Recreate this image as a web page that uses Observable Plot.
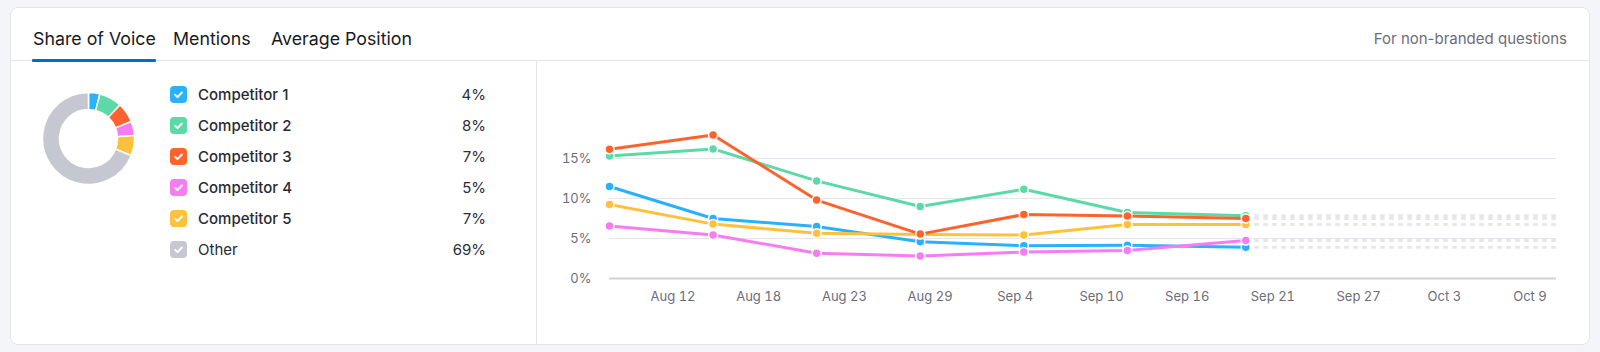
<!DOCTYPE html>
<html>
<head>
<meta charset="utf-8">
<script src="https://cdn.jsdelivr.net/npm/d3@7"></script>
<script src="https://cdn.jsdelivr.net/npm/@observablehq/plot@0.6"></script>
<style>
  html, body { margin: 0; padding: 0; }
  body { width: 1600px; height: 352px; background: #f4f5f9; font-family: Inter, "Noto Sans", sans-serif; position: relative; overflow: hidden; }
  .card { position: absolute; left: 10px; top: 7px; width: 1578px; height: 336px; background: #fff; border: 1px solid #e3e4ea; border-radius: 8px; }
  .tab { position: absolute; top: 27px; line-height: 24px; font-size: 17.8px; color: #171a22; white-space: nowrap; }
  .underline { position: absolute; left: 32px; top: 59px; width: 124px; height: 3px; background: #006dca; border-radius: 1px; }
  .hsep { position: absolute; left: 11px; top: 60px; width: 1578px; height: 1px; background: #e4e5eb; }
  .vsep { position: absolute; left: 536px; top: 61px; width: 1px; height: 283px; background: #e4e5eb; }
  .note { position: absolute; right: 33px; top: 27px; line-height: 24px; font-size: 15px; color: #6c6e79; white-space: nowrap; }
  .row { position: absolute; left: 170px; width: 316px; height: 24px; display: flex; align-items: center; }
  .row svg { flex: none; }
  .row .name { margin-left: 11px; font-size: 15px; color: #272a33; font-weight: 500; white-space: nowrap; }
  .row .val { margin-left: auto; font-size: 15px; color: #2b2e38; }
  #donut { position: absolute; left: 42px; top: 92px; }
  #chart { position: absolute; left: 538px; top: 63px; }
</style>
</head>
<body>
<div class="card"></div>
<div class="hsep"></div>
<div class="underline"></div>
<div class="vsep"></div>
<div class="tab" style="left:33px">Share of Voice</div>
<div class="tab" style="left:173px">Mentions</div>
<div class="tab" style="left:271px">Average Position</div>
<div class="note">For non-branded questions</div>
<div id="legend"></div>
<div id="donut"></div>
<div id="chart"></div>
<script>
// ---- data ----
const names = ["Competitor 1", "Competitor 2", "Competitor 3", "Competitor 4", "Competitor 5", "Other"];
const colors = ["#2bb1fc", "#5cd9a6", "#ff632d", "#f67cf2", "#fec13d", "#c5c8d0"];
const shareValues = [4, 8, 7, 5, 7, 69];

const dates = ["2024-08-08", "2024-08-15", "2024-08-22", "2024-08-29", "2024-09-05", "2024-09-12", "2024-09-20"];
const projectionEnd = "2024-10-11";
const comp1 = [11.5, 7.5, 6.5, 4.6, 4.1, 4.15, 3.9];
const comp2 = [15.3, 16.2, 12.2, 9.0, 11.15, 8.25, 7.85];
const comp3 = [16.15, 17.95, 9.8, 5.55, 8.0, 7.8, 7.5];
const comp4 = [6.55, 5.45, 3.15, 2.8, 3.3, 3.5, 4.75];
const comp5 = [9.25, 6.8, 5.65, 5.5, 5.45, 6.75, 6.75];

const yTicks = [0, 5, 10, 15];
const xTicks = ["2024-08-12T07:00Z", "2024-08-18T02:00Z", "2024-08-23T21:00Z", "2024-08-29T16:00Z",
                "2024-09-04T10:00Z", "2024-09-10T06:00Z", "2024-09-16T01:00Z", "2024-09-21T20:00Z",
                "2024-09-27T15:00Z", "2024-10-03T10:00Z", "2024-10-09T05:00Z"];

// ---- legend ----
const legend = document.getElementById("legend");
names.forEach((n, i) => {
  const row = document.createElement("div");
  row.className = "row";
  row.style.top = (82 + i * 31) + "px";
  row.innerHTML = `<svg width="17" height="17" viewBox="0 0 17 17"><rect width="17" height="17" rx="4" fill="${colors[i]}"/><path d="M5.2 8.9 L7.5 11.1 L11.9 6.5" fill="none" stroke="#fff" stroke-width="2" stroke-linecap="round" stroke-linejoin="round"/></svg>` +
    `<span class="name" style="${n === "Other" ? "font-weight:400" : ""}">${n}</span><span class="val">${shareValues[i]}%</span>`;
  legend.appendChild(row);
});

// ---- donut ----
const shares = names.map((n, i) => ({name: n, value: shareValues[i]}));
const colorOf = new Map(names.map((n, i) => [n, colors[i]]));
function donutMark(index, scales, values, dims) {
  const pie = d3.pie().sort(null).value(d => d.value)(shares);
  const arc = d3.arc().innerRadius(29).outerRadius(46);
  const g = d3.create("svg:g").attr("transform", `translate(${dims.width / 2},${dims.height / 2})`);
  g.selectAll("path").data(pie).join("path")
    .attr("d", arc)
    .attr("fill", d => colorOf.get(d.data.name))
    .attr("stroke", "#fff")
    .attr("stroke-width", 1.5);
  return g.node();
}
document.getElementById("donut").appendChild(Plot.plot({
  width: 93, height: 93, margin: 0,
  x: {domain: [-46, 46], axis: null},
  y: {domain: [-46, 46], axis: null},
  style: {background: "transparent"},
  marks: [donutMark]
}));

// ---- line chart ----
const seriesOrder = [["Competitor 2", comp2], ["Competitor 1", comp1], ["Competitor 5", comp5], ["Competitor 4", comp4], ["Competitor 3", comp3]];
const rows = seriesOrder.flatMap(([name, vals]) => dates.map((d, i) => ({name, date: new Date(d), value: vals[i]})));
const lastPoints = seriesOrder.map(([name, vals]) => ({name, date: new Date(dates[dates.length - 1]), value: vals[vals.length - 1]}));
const endDate = new Date(projectionEnd);

document.getElementById("chart").appendChild(Plot.plot({
  width: 1052, height: 282,
  marginLeft: 71, marginRight: 34, marginTop: 55, marginBottom: 67,
  style: {fontFamily: "Inter, sans-serif", fontSize: "13px", color: "#6c6e79", background: "transparent", overflow: "visible"},
  x: {type: "utc", domain: [new Date(dates[0]), endDate], label: null},
  y: {domain: [0, 20], label: null},
  color: {domain: names.slice(0, 5), range: colors.slice(0, 5)},
  marks: [
    Plot.gridY(yTicks.slice(1), {stroke: "#e5e6eb", strokeOpacity: 1, strokeWidth: 1}),
    Plot.ruleY([0], {stroke: "#cfd1d7", strokeWidth: 2}),
    Plot.axisY(yTicks, {tickSize: 0, tickPadding: 18, tickFormat: d => d + "%", fill: "#6c6e79", label: null}),
    Plot.axisX(xTicks.map(d => new Date(d)), {tickSize: 0, tickPadding: 13, tickFormat: d3.utcFormat("%b %-d"), fill: "#6c6e79", label: null}),
    Plot.ruleY(lastPoints, {x1: "date", x2: () => endDate, y: "value", stroke: "#e6e7eb", strokeWidth: 3, strokeDasharray: "4.5 4.5"}),
    Plot.line(rows, {x: "date", y: "value", stroke: "name", z: "name", strokeWidth: 3, strokeLinejoin: "round"}),
    Plot.dot(rows, {x: "date", y: "value", fill: "name", r: 4.5, stroke: "#fff", strokeWidth: 1.5})
  ]
}));
</script>
</body>
</html>
